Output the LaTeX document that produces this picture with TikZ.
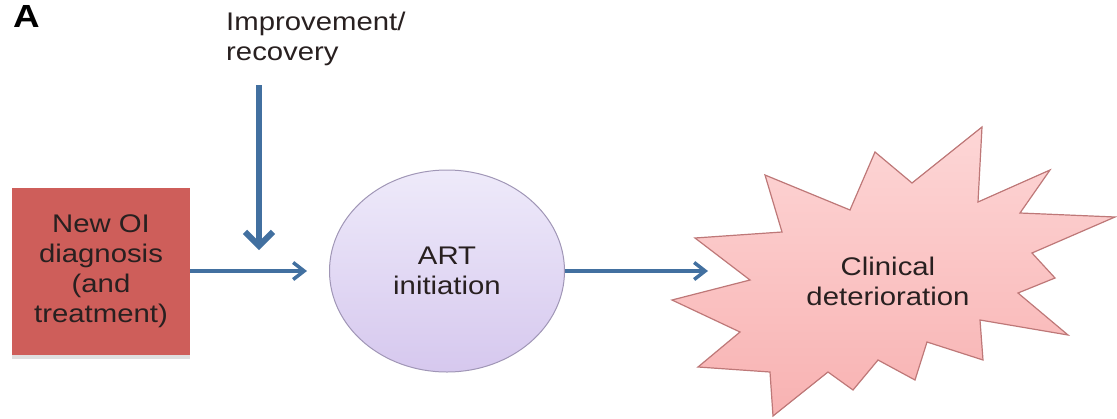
\documentclass[tikz,border=0pt]{standalone}
\usepackage{fontspec}
\setmainfont{Liberation Sans}[FakeStretch=1.15]
\usetikzlibrary{arrows.meta,shapes.geometric,shadows}
\definecolor{oired}{RGB}{206,94,90}
\definecolor{arttop}{RGB}{238,234,250}
\definecolor{artbot}{RGB}{214,200,238}
\definecolor{artedge}{RGB}{160,150,182}
\definecolor{startop}{RGB}{253,214,214}
\definecolor{starbot}{RGB}{248,178,178}
\definecolor{staredge}{RGB}{190,120,120}
\definecolor{flowblue}{RGB}{66,112,160}
\definecolor{textdark}{RGB}{40,32,32}
\newcommand{\flownode}[4] {\node at (#1) (#2) [#3] {#4};}
\newcommand{\flowarrow}[3] {\draw [#3] (#1) -- (#2);}

\begin{document}
\begin{tikzpicture}[x=1pt, y=-1pt,
  every node/.style={font=\fontsize{25.5}{30}\selectfont, text=textdark, align=center},
  oibox/.style={rectangle, fill=oired, minimum width=178pt, minimum height=167pt, inner sep=0pt,
    drop shadow={shadow xshift=0pt, shadow yshift=-4pt, fill=gray!25, opacity=1}},
  artcircle/.style={ellipse, draw=artedge, line width=1pt, top color=arttop, bottom color=artbot,
    minimum width=235pt, minimum height=202pt, inner sep=0pt},
  thinarrow/.style={draw=flowblue, line width=3.5pt, -{Straight Barb[length=11pt, width=17pt]}},
  thickarrow/.style={draw=flowblue, line width=6pt, -{Straight Barb[length=14pt, width=28pt]}}]

\useasboundingbox (0,0) rectangle (1117,418);

% panel letter and side input
\node at (13,27) (panel) [anchor=base west, inner sep=0pt, font=\bfseries\fontsize{32}{32}\selectfont, text=black] {A};
\node at (226,12) (impr) [anchor=north west, align=left, inner sep=0pt] {Improvement/\\recovery};
\coordinate (imprtop) at (259,85);
\coordinate (imprend) at (259,250);

% nodes
\flownode {101,271}{diag}{oibox}{New OI\\diagnosis\\(and\\treatment)};
\flownode {447,271}{art}{artcircle}{ART\\initiation};

% starburst
\shade [top color=startop, bottom color=starbot, draw=staredge, line width=1.2pt]
  (672,300) -- (750,280) -- (695,238) -- (782,232) -- (765,175) -- (850,210) -- (875,152)
  -- (912,183) -- (982,127) -- (978,202) -- (1050,170) -- (1020,213) -- (1115,217)
  -- (1032,253) -- (1055,278) -- (1018,293) -- (1068,335) -- (980,320) -- (983,360)
  -- (927,342) -- (915,380) -- (878,360) -- (853,390) -- (828,372) -- (773,416)
  -- (770,372) -- (698,367) -- (740,332) -- cycle;
\flownode {888,281}{clin}{}{Clinical\\deterioration};
\coordinate (clinin) at (708,271);

% arrows
\flowarrow{imprtop}{imprend}{thickarrow};
\flowarrow{diag.east}{art.west}{thinarrow, shorten >=22pt};
\flowarrow{art.east}{clinin}{thinarrow};

\end{tikzpicture}
\end{document}
